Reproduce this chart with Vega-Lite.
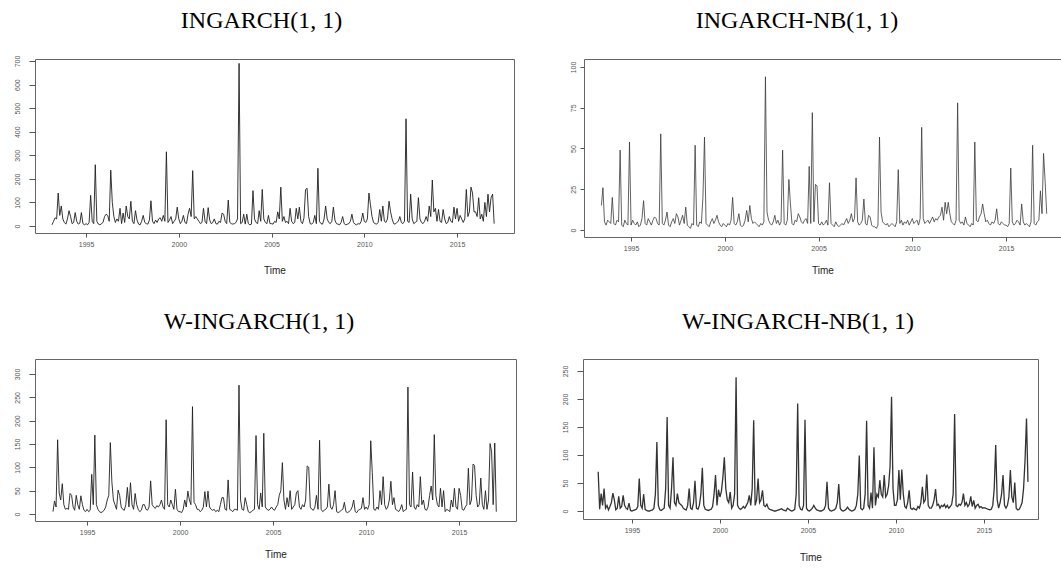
{
"$schema":"https://vega.github.io/schema/vega-lite/v6.json",
"background":"white",
"padding":{"left":9,"top":8,"right":0,"bottom":0},
"config":{
 "view":{"stroke":"#666","strokeWidth":1},
 "axis":{"grid":false,"domain":false,"tickColor":"#555","labelFont":"Liberation Sans","labelFontSize":7,"labelColor":"#555","titleFont":"Liberation Sans","titleFontSize":10,"titleFontWeight":"normal","titleColor":"#222"},
 "axisX":{"tickSize":4,"labelPadding":3},
 "axisY":{"tickSize":6,"labelPadding":8.5,"labelAngle":270,"labelAlign":"center","labelBaseline":"bottom"},
 "title":{"font":"Liberation Serif","fontSize":24,"fontWeight":"normal","color":"#000","anchor":"middle","frame":"group","baseline":"alphabetic"}
},
"data":{"values":[
{"t":1993.083,"d":70},
{"t":1993.167,"a":5,"c":5,"d":3},
{"t":1993.25,"a":20,"c":28,"d":31},
{"t":1993.333,"a":35,"c":15,"d":10},
{"t":1993.417,"a":30,"b":15,"c":159,"d":40},
{"t":1993.5,"a":140,"b":26,"c":45,"d":5},
{"t":1993.583,"a":45,"b":5,"c":30,"d":10},
{"t":1993.667,"a":85,"b":3,"c":65,"d":2},
{"t":1993.75,"a":30,"b":6,"c":20,"d":8},
{"t":1993.833,"a":15,"b":5,"c":10,"d":15},
{"t":1993.917,"a":8,"b":4,"c":12,"d":32},
{"t":1994,"a":30,"b":20,"c":10,"d":20},
{"t":1994.083,"a":65,"b":4,"c":44,"d":2},
{"t":1994.167,"a":40,"b":3,"c":40,"d":5},
{"t":1994.25,"a":10,"b":6,"c":15,"d":26},
{"t":1994.333,"a":15,"b":5,"c":8,"d":5},
{"t":1994.417,"a":57,"b":49,"c":40,"d":8},
{"t":1994.5,"a":20,"b":3,"c":20,"d":28},
{"t":1994.583,"a":8,"b":2,"c":10,"d":10},
{"t":1994.667,"a":12,"b":6,"c":39,"d":5},
{"t":1994.75,"a":57,"b":4,"c":20,"d":3},
{"t":1994.833,"a":10,"b":3,"c":8,"d":14},
{"t":1994.917,"a":5,"b":54,"c":5,"d":1},
{"t":1995,"a":10,"b":3,"c":10,"d":0},
{"t":1995.083,"a":5,"b":6,"c":5,"d":1},
{"t":1995.167,"a":15,"b":4,"c":8,"d":2},
{"t":1995.25,"a":130,"b":3,"c":85,"d":3},
{"t":1995.333,"a":20,"b":5,"c":20,"d":8},
{"t":1995.417,"a":10,"b":2,"c":169,"d":58},
{"t":1995.5,"a":260,"b":3,"c":20,"d":10},
{"t":1995.583,"a":20,"b":7,"c":10,"d":5},
{"t":1995.667,"a":8,"b":18,"c":5,"d":30},
{"t":1995.75,"a":5,"b":4,"c":3,"d":3},
{"t":1995.833,"a":10,"b":3,"c":5,"d":1},
{"t":1995.917,"a":15,"b":7,"c":8,"d":0},
{"t":1996,"a":40,"b":5,"c":15,"d":0},
{"t":1996.083,"a":50,"b":3,"c":30,"d":1},
{"t":1996.167,"a":45,"b":6,"c":40,"d":2},
{"t":1996.25,"a":20,"b":8,"c":153,"d":5},
{"t":1996.333,"a":237,"b":7,"c":69,"d":30},
{"t":1996.417,"a":100,"b":4,"c":30,"d":123},
{"t":1996.5,"a":40,"b":3,"c":20,"d":10},
{"t":1996.583,"a":15,"b":59,"c":10,"d":2},
{"t":1996.667,"a":30,"b":4,"c":51,"d":1},
{"t":1996.75,"a":20,"b":3,"c":40,"d":3},
{"t":1996.833,"a":75,"b":6,"c":15,"d":5},
{"t":1996.917,"a":10,"b":11,"c":10,"d":40},
{"t":1997,"a":55,"b":3,"c":8,"d":168},
{"t":1997.083,"a":15,"b":2,"c":20,"d":10},
{"t":1997.167,"a":85,"b":5,"c":57,"d":5},
{"t":1997.25,"a":40,"b":7,"c":15,"d":40},
{"t":1997.333,"a":30,"b":4,"c":67,"d":96},
{"t":1997.417,"a":105,"b":10,"c":20,"d":15},
{"t":1997.5,"a":20,"b":8,"c":10,"d":10},
{"t":1997.583,"a":10,"b":3,"c":44,"d":31},
{"t":1997.667,"a":65,"b":6,"c":20,"d":15},
{"t":1997.75,"a":25,"b":9,"c":10,"d":12},
{"t":1997.833,"a":8,"b":4,"c":5,"d":10},
{"t":1997.917,"a":5,"b":14,"c":8,"d":5},
{"t":1998,"a":20,"b":3,"c":20,"d":3},
{"t":1998.083,"a":45,"b":2,"c":20,"d":2},
{"t":1998.167,"a":15,"b":1,"c":10,"d":10},
{"t":1998.25,"a":10,"b":4,"c":8,"d":40},
{"t":1998.333,"a":8,"b":3,"c":15,"d":5},
{"t":1998.417,"a":25,"b":52,"c":71,"d":3},
{"t":1998.5,"a":107,"b":3,"c":20,"d":15},
{"t":1998.583,"a":20,"b":2,"c":15,"d":54},
{"t":1998.667,"a":10,"b":5,"c":12,"d":5},
{"t":1998.75,"a":25,"b":4,"c":18,"d":3},
{"t":1998.833,"a":15,"b":20,"c":15,"d":10},
{"t":1998.917,"a":30,"b":57,"c":20,"d":30},
{"t":1999,"a":35,"b":4,"c":30,"d":77},
{"t":1999.083,"a":20,"b":3,"c":15,"d":10},
{"t":1999.167,"a":45,"b":2,"c":10,"d":3},
{"t":1999.25,"a":20,"b":5,"c":202,"d":2},
{"t":1999.333,"a":315,"b":7,"c":20,"d":1},
{"t":1999.417,"a":15,"b":4,"c":15,"d":2},
{"t":1999.5,"a":25,"b":6,"c":30,"d":3},
{"t":1999.583,"a":40,"b":9,"c":20,"d":8},
{"t":1999.667,"a":10,"b":5,"c":10,"d":30},
{"t":1999.75,"a":20,"b":3,"c":53,"d":64},
{"t":1999.833,"a":30,"b":2,"c":10,"d":10},
{"t":1999.917,"a":80,"b":4,"c":5,"d":38},
{"t":2000,"a":30,"b":3,"c":5,"d":25},
{"t":2000.083,"a":10,"b":2,"c":3,"d":35},
{"t":2000.167,"a":20,"b":4,"c":10,"d":60},
{"t":2000.25,"a":45,"b":3,"c":30,"d":96},
{"t":2000.333,"a":15,"b":6,"c":15,"d":40},
{"t":2000.417,"a":10,"b":20,"c":49,"d":20},
{"t":2000.5,"a":50,"b":4,"c":30,"d":15},
{"t":2000.583,"a":75,"b":3,"c":20,"d":34},
{"t":2000.667,"a":40,"b":5,"c":230,"d":5},
{"t":2000.75,"a":235,"b":10,"c":25,"d":10},
{"t":2000.833,"a":30,"b":3,"c":20,"d":30},
{"t":2000.917,"a":40,"b":2,"c":10,"d":239},
{"t":2001,"a":30,"b":3,"c":10,"d":10},
{"t":2001.083,"a":20,"b":6,"c":5,"d":5},
{"t":2001.167,"a":10,"b":12,"c":8,"d":3},
{"t":2001.25,"a":15,"b":5,"c":15,"d":5},
{"t":2001.333,"a":75,"b":15,"c":48,"d":8},
{"t":2001.417,"a":20,"b":7,"c":15,"d":5},
{"t":2001.5,"a":10,"b":4,"c":49,"d":10},
{"t":2001.583,"a":78,"b":5,"c":15,"d":15},
{"t":2001.667,"a":25,"b":4,"c":10,"d":28},
{"t":2001.75,"a":10,"b":3,"c":8,"d":10},
{"t":2001.833,"a":15,"b":2,"c":10,"d":40},
{"t":2001.917,"a":30,"b":4,"c":5,"d":162},
{"t":2002,"a":10,"b":3,"c":8,"d":10},
{"t":2002.083,"a":8,"b":5,"c":5,"d":20},
{"t":2002.167,"a":20,"b":94,"c":20,"d":58},
{"t":2002.25,"a":15,"b":11,"c":35,"d":15},
{"t":2002.333,"a":55,"b":6,"c":35,"d":20},
{"t":2002.417,"a":50,"b":4,"c":10,"d":37},
{"t":2002.5,"a":20,"b":3,"c":8,"d":10},
{"t":2002.583,"a":10,"b":5,"c":73,"d":8},
{"t":2002.667,"a":110,"b":9,"c":10,"d":12},
{"t":2002.75,"a":15,"b":4,"c":8,"d":5},
{"t":2002.833,"a":10,"b":6,"c":5,"d":3},
{"t":2002.917,"a":8,"b":3,"c":10,"d":2},
{"t":2003,"a":10,"b":5,"c":10,"d":1},
{"t":2003.083,"a":15,"b":49,"c":8,"d":0},
{"t":2003.167,"a":30,"b":4,"c":276,"d":0},
{"t":2003.25,"a":690,"b":3,"c":30,"d":1},
{"t":2003.333,"a":10,"b":6,"c":10,"d":2},
{"t":2003.417,"a":15,"b":31,"c":8,"d":3},
{"t":2003.5,"a":50,"b":16,"c":35,"d":4},
{"t":2003.583,"a":8,"b":4,"c":20,"d":2},
{"t":2003.667,"a":50,"b":3,"c":5,"d":1},
{"t":2003.75,"a":10,"b":6,"c":3,"d":0},
{"t":2003.833,"a":5,"b":5,"c":5,"d":5},
{"t":2003.917,"a":8,"b":10,"c":8,"d":3},
{"t":2004,"a":150,"b":8,"c":10,"d":1},
{"t":2004.083,"a":30,"b":5,"c":168,"d":0},
{"t":2004.167,"a":15,"b":4,"c":20,"d":1},
{"t":2004.25,"a":10,"b":6,"c":10,"d":3},
{"t":2004.333,"a":65,"b":7,"c":45,"d":30},
{"t":2004.417,"a":20,"b":4,"c":15,"d":192},
{"t":2004.5,"a":155,"b":39,"c":173,"d":10},
{"t":2004.583,"a":30,"b":4,"c":15,"d":3},
{"t":2004.667,"a":15,"b":72,"c":10,"d":2},
{"t":2004.75,"a":10,"b":5,"c":8,"d":10},
{"t":2004.833,"a":45,"b":28,"c":10,"d":163},
{"t":2004.917,"a":10,"b":27,"c":15,"d":5},
{"t":2005,"a":10,"b":4,"c":10,"d":1},
{"t":2005.083,"a":8,"b":3,"c":8,"d":0},
{"t":2005.167,"a":20,"b":5,"c":15,"d":2},
{"t":2005.25,"a":15,"b":3,"c":20,"d":5},
{"t":2005.333,"a":60,"b":4,"c":40,"d":10},
{"t":2005.417,"a":30,"b":6,"c":50,"d":5},
{"t":2005.5,"a":165,"b":3,"c":110,"d":2},
{"t":2005.583,"a":20,"b":29,"c":30,"d":1},
{"t":2005.667,"a":40,"b":4,"c":10,"d":0},
{"t":2005.75,"a":15,"b":3,"c":35,"d":0},
{"t":2005.833,"a":20,"b":2,"c":15,"d":1},
{"t":2005.917,"a":10,"b":5,"c":50,"d":3},
{"t":2006,"a":75,"b":3,"c":10,"d":10},
{"t":2006.083,"a":20,"b":2,"c":15,"d":52},
{"t":2006.167,"a":10,"b":3,"c":20,"d":5},
{"t":2006.25,"a":15,"b":4,"c":45,"d":1},
{"t":2006.333,"a":75,"b":3,"c":50,"d":0},
{"t":2006.417,"a":30,"b":5,"c":15,"d":1},
{"t":2006.5,"a":80,"b":7,"c":10,"d":2},
{"t":2006.583,"a":20,"b":4,"c":20,"d":5},
{"t":2006.667,"a":10,"b":6,"c":15,"d":15},
{"t":2006.75,"a":35,"b":10,"c":30,"d":48},
{"t":2006.833,"a":155,"b":5,"c":103,"d":5},
{"t":2006.917,"a":160,"b":7,"c":100,"d":1},
{"t":2007,"a":40,"b":32,"c":15,"d":0},
{"t":2007.083,"a":10,"b":5,"c":10,"d":1},
{"t":2007.167,"a":8,"b":3,"c":8,"d":3},
{"t":2007.25,"a":15,"b":4,"c":15,"d":7},
{"t":2007.333,"a":45,"b":6,"c":40,"d":3},
{"t":2007.417,"a":10,"b":19,"c":10,"d":1},
{"t":2007.5,"a":245,"b":4,"c":158,"d":0},
{"t":2007.583,"a":20,"b":3,"c":10,"d":1},
{"t":2007.667,"a":10,"b":9,"c":5,"d":3},
{"t":2007.75,"a":8,"b":8,"c":8,"d":10},
{"t":2007.833,"a":30,"b":3,"c":10,"d":30},
{"t":2007.917,"a":85,"b":2,"c":15,"d":99},
{"t":2008,"a":30,"b":2,"c":64,"d":5},
{"t":2008.083,"a":15,"b":1,"c":15,"d":2},
{"t":2008.167,"a":10,"b":3,"c":10,"d":5},
{"t":2008.25,"a":20,"b":57,"c":20,"d":30},
{"t":2008.333,"a":80,"b":11,"c":50,"d":161},
{"t":2008.417,"a":25,"b":5,"c":5,"d":10},
{"t":2008.5,"a":10,"b":4,"c":3,"d":5},
{"t":2008.583,"a":8,"b":3,"c":5,"d":33},
{"t":2008.667,"a":5,"b":4,"c":8,"d":5},
{"t":2008.75,"a":15,"b":2,"c":10,"d":114},
{"t":2008.833,"a":40,"b":3,"c":25,"d":10},
{"t":2008.917,"a":10,"b":4,"c":5,"d":30},
{"t":2009,"a":5,"b":3,"c":3,"d":25},
{"t":2009.083,"a":8,"b":2,"c":5,"d":55},
{"t":2009.167,"a":10,"b":5,"c":8,"d":30},
{"t":2009.25,"a":20,"b":37,"c":15,"d":25},
{"t":2009.333,"a":50,"b":4,"c":30,"d":64},
{"t":2009.417,"a":15,"b":6,"c":5,"d":25},
{"t":2009.5,"a":8,"b":3,"c":3,"d":30},
{"t":2009.583,"a":5,"b":5,"c":8,"d":45},
{"t":2009.667,"a":10,"b":4,"c":10,"d":80},
{"t":2009.75,"a":8,"b":6,"c":12,"d":204},
{"t":2009.833,"a":20,"b":3,"c":35,"d":40},
{"t":2009.917,"a":55,"b":5,"c":10,"d":10},
{"t":2010,"a":20,"b":7,"c":15,"d":10},
{"t":2010.083,"a":15,"b":4,"c":10,"d":20},
{"t":2010.167,"a":30,"b":5,"c":20,"d":73},
{"t":2010.25,"a":140,"b":6,"c":157,"d":20},
{"t":2010.333,"a":90,"b":3,"c":89,"d":74},
{"t":2010.417,"a":40,"b":7,"c":10,"d":30},
{"t":2010.5,"a":15,"b":63,"c":8,"d":8},
{"t":2010.583,"a":10,"b":7,"c":15,"d":5},
{"t":2010.667,"a":8,"b":4,"c":10,"d":15},
{"t":2010.75,"a":15,"b":5,"c":50,"d":37},
{"t":2010.833,"a":70,"b":6,"c":20,"d":5},
{"t":2010.917,"a":20,"b":4,"c":80,"d":3},
{"t":2011,"a":85,"b":6,"c":20,"d":5},
{"t":2011.083,"a":20,"b":8,"c":10,"d":3},
{"t":2011.167,"a":15,"b":5,"c":15,"d":2},
{"t":2011.25,"a":30,"b":7,"c":30,"d":8},
{"t":2011.333,"a":105,"b":6,"c":70,"d":5},
{"t":2011.417,"a":60,"b":8,"c":20,"d":15},
{"t":2011.5,"a":30,"b":9,"c":35,"d":43},
{"t":2011.583,"a":10,"b":14,"c":10,"d":15},
{"t":2011.667,"a":8,"b":6,"c":8,"d":20},
{"t":2011.75,"a":15,"b":17,"c":5,"d":65},
{"t":2011.833,"a":20,"b":10,"c":10,"d":10},
{"t":2011.917,"a":40,"b":17,"c":20,"d":5},
{"t":2012,"a":15,"b":10,"c":5,"d":5},
{"t":2012.083,"a":10,"b":5,"c":8,"d":10},
{"t":2012.167,"a":20,"b":4,"c":10,"d":20},
{"t":2012.25,"a":455,"b":3,"c":272,"d":39},
{"t":2012.333,"a":20,"b":6,"c":20,"d":10},
{"t":2012.417,"a":15,"b":78,"c":15,"d":12},
{"t":2012.5,"a":135,"b":6,"c":90,"d":5},
{"t":2012.583,"a":30,"b":4,"c":15,"d":10},
{"t":2012.667,"a":10,"b":5,"c":10,"d":8},
{"t":2012.75,"a":15,"b":3,"c":20,"d":12},
{"t":2012.833,"a":20,"b":8,"c":15,"d":6},
{"t":2012.917,"a":120,"b":4,"c":80,"d":10},
{"t":2013,"a":30,"b":3,"c":20,"d":5},
{"t":2013.083,"a":15,"b":2,"c":30,"d":8},
{"t":2013.167,"a":10,"b":4,"c":10,"d":12},
{"t":2013.25,"a":20,"b":3,"c":8,"d":30},
{"t":2013.333,"a":40,"b":54,"c":15,"d":173},
{"t":2013.417,"a":20,"b":6,"c":40,"d":10},
{"t":2013.5,"a":85,"b":5,"c":60,"d":8},
{"t":2013.583,"a":40,"b":8,"c":30,"d":12},
{"t":2013.667,"a":195,"b":10,"c":170,"d":10},
{"t":2013.75,"a":60,"b":16,"c":40,"d":15},
{"t":2013.833,"a":75,"b":10,"c":20,"d":31},
{"t":2013.917,"a":20,"b":5,"c":15,"d":10},
{"t":2014,"a":70,"b":6,"c":55,"d":15},
{"t":2014.083,"a":20,"b":4,"c":15,"d":8},
{"t":2014.167,"a":15,"b":3,"c":50,"d":12},
{"t":2014.25,"a":70,"b":5,"c":5,"d":26},
{"t":2014.333,"a":30,"b":4,"c":10,"d":8},
{"t":2014.417,"a":10,"b":6,"c":8,"d":19},
{"t":2014.5,"a":15,"b":13,"c":5,"d":5},
{"t":2014.583,"a":40,"b":4,"c":30,"d":10},
{"t":2014.667,"a":20,"b":3,"c":15,"d":12},
{"t":2014.75,"a":15,"b":5,"c":55,"d":6},
{"t":2014.833,"a":80,"b":4,"c":15,"d":8},
{"t":2014.917,"a":30,"b":3,"c":10,"d":5},
{"t":2015,"a":75,"b":3,"c":55,"d":6},
{"t":2015.083,"a":20,"b":2,"c":40,"d":5},
{"t":2015.167,"a":45,"b":4,"c":10,"d":4},
{"t":2015.25,"a":30,"b":38,"c":8,"d":3},
{"t":2015.333,"a":15,"b":5,"c":15,"d":2},
{"t":2015.417,"a":30,"b":3,"c":20,"d":3},
{"t":2015.5,"a":155,"b":4,"c":98,"d":10},
{"t":2015.583,"a":40,"b":6,"c":20,"d":40},
{"t":2015.667,"a":60,"b":5,"c":30,"d":118},
{"t":2015.75,"a":165,"b":3,"c":107,"d":20},
{"t":2015.833,"a":140,"b":16,"c":104,"d":5},
{"t":2015.917,"a":60,"b":5,"c":40,"d":15},
{"t":2016,"a":60,"b":3,"c":15,"d":30},
{"t":2016.083,"a":40,"b":4,"c":20,"d":64},
{"t":2016.167,"a":120,"b":3,"c":77,"d":10},
{"t":2016.25,"a":30,"b":2,"c":20,"d":5},
{"t":2016.333,"a":50,"b":5,"c":10,"d":10},
{"t":2016.417,"a":20,"b":52,"c":50,"d":25},
{"t":2016.5,"a":100,"b":4,"c":10,"d":73},
{"t":2016.583,"a":40,"b":3,"c":30,"d":25},
{"t":2016.667,"a":135,"b":5,"c":151,"d":15},
{"t":2016.75,"a":60,"b":6,"c":133,"d":51},
{"t":2016.833,"a":120,"b":24,"c":20,"d":5},
{"t":2016.917,"a":135,"b":10,"c":152,"d":2},
{"t":2017,"a":10,"b":47,"c":5,"d":3},
{"t":2017.083,"b":30,"d":8},
{"t":2017.167,"b":10,"d":15},
{"t":2017.25,"d":40},
{"t":2017.333,"d":90},
{"t":2017.417,"d":165},
{"t":2017.5,"d":52}
]},
"spacing":33,
"vconcat":[
 {"spacing":53,"hconcat":[
  {"width":479,"height":174,
   "title":{"text":"INGARCH(1, 1)","dx":-13,"offset":22},
   "mark":{"type":"line","color":"#1f1f1f","strokeWidth":0.9},
   "encoding":{
    "x":{"field":"t","type":"quantitative","scale":{"domain":[1992.25,2018.07],"nice":false,"zero":false},"axis":{"values":[1995,2000,2005,2010,2015],"format":"d","title":"Time","titlePadding":18}},
    "y":{"field":"a","type":"quantitative","scale":{"domain":[-29.7,708.5],"nice":false,"zero":false},"axis":{"values":[0,100,200,300,400,500,600,700],"title":null,"minExtent":25}}
   }},
  {"width":477,"height":178,
   "title":{"text":"INGARCH-NB(1, 1)","dx":-25.5,"offset":26},
   "mark":{"type":"line","color":"#3a3a3a","strokeWidth":0.8},
   "encoding":{
    "x":{"field":"t","type":"quantitative","scale":{"domain":[1992.49,2017.93],"nice":false,"zero":false},"axis":{"values":[1995,2000,2005,2010,2015],"format":"d","title":"Time","titlePadding":14}},
    "y":{"field":"b","type":"quantitative","scale":{"domain":[-4.3,104.9],"nice":false,"zero":false},"axis":{"values":[0,25,50,75,100],"title":null,"tickSize":4,"labelPadding":4}}
   }}
 ]},
 {"spacing":44,"hconcat":[
  {"width":481,"height":162,
   "title":{"text":"W-INGARCH(1, 1)","dx":-16.5,"offset":25},
   "mark":{"type":"line","color":"#1f1f1f","strokeWidth":0.9},
   "encoding":{
    "x":{"field":"t","type":"quantitative","scale":{"domain":[1992.2,2018.06],"nice":false,"zero":false},"axis":{"values":[1995,2000,2005,2010,2015],"format":"d","title":"Time","titlePadding":14}},
    "y":{"field":"c","type":"quantitative","scale":{"domain":[-15,332.1],"nice":false,"zero":false},"axis":{"values":[0,50,100,150,200,250,300],"title":null}}
   }},
  {"width":455,"height":160,
   "title":{"text":"W-INGARCH-NB(1, 1)","dx":-12.5,"offset":25},
   "mark":{"type":"line","color":"#333333","strokeWidth":1.3},
   "encoding":{
    "x":{"field":"t","type":"quantitative","scale":{"domain":[1992.22,2018.07],"nice":false,"zero":false},"axis":{"values":[1995,2000,2005,2010,2015],"format":"d","title":"Time","titlePadding":19}},
    "y":{"field":"d","type":"quantitative","scale":{"domain":[-14.3,271.4],"nice":false,"zero":false},"axis":{"values":[0,50,100,150,200,250],"title":null}}
   }}
 ]}
]
}
